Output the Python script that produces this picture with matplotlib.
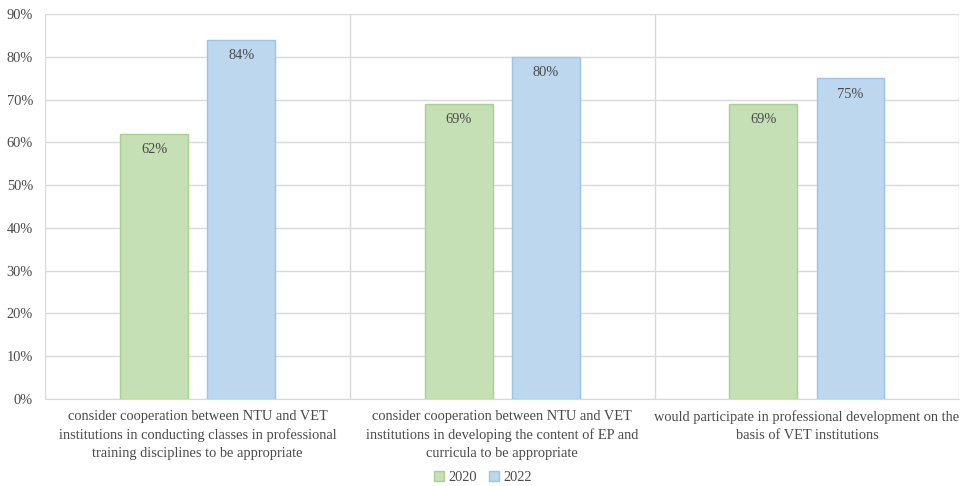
import matplotlib.pyplot as plt
import numpy as np
from matplotlib.ticker import PercentFormatter

categories = [
    "consider cooperation between NTU and VET\ninstitutions in conducting classes in professional\ntraining disciplines to be appropriate",
    "consider cooperation between NTU and VET\ninstitutions in developing the content of EP and\ncurricula to be appropriate",
    "would participate in professional development on the\nbasis of VET institutions",
]
years = ["2020", "2022"]
v2020 = [62, 69, 69]
v2022 = [84, 80, 75]

plt.rcParams['font.family'] = ['Liberation Serif', 'DejaVu Serif']
txt = '#4a4a4a'
fs = 10.4

fig = plt.figure(figsize=(9.66, 4.86), dpi=100)
ax = fig.add_axes([0.047, 0.179, 0.946, 0.792])

x = np.arange(len(categories))
w = 0.223
off = 0.143
b1 = ax.bar(x - off, v2020, w, color='#c5e0b4', edgecolor='#a9d18e', linewidth=1, label=years[0], zorder=3)
b2 = ax.bar(x + off, v2022, w, color='#bdd7ee', edgecolor='#9dc3e6', linewidth=1, label=years[1], zorder=3)

for bars in (b1, b2):
    for r in bars:
        h = r.get_height()
        ax.text(r.get_x() + r.get_width() / 2, h - 2.2, f"{h:.0f}%", ha='center', va='top',
                fontsize=fs, color=txt, zorder=4)

ax.set_xlim(-0.5, len(categories) - 0.5)
ax.set_ylim(0, 90)
ax.set_yticks(range(0, 91, 10))
ax.yaxis.set_major_formatter(PercentFormatter(decimals=0))
ax.set_xticks(x)
ax.set_xticklabels(categories, fontsize=fs, color=txt, linespacing=1.5)
ax.tick_params(axis='y', labelsize=fs, labelcolor=txt, length=0, pad=9)
ax.tick_params(axis='x', length=0, pad=8)

ax.grid(axis='y', color='#d9d9d9', linewidth=1, zorder=0)
for b in np.arange(-0.5, len(categories), 1.0):
    ax.axvline(b, color='#d9d9d9', linewidth=1, zorder=0)
for s in ['top', 'right', 'left']:
    ax.spines[s].set_visible(False)
ax.spines['bottom'].set_color('#d9d9d9')

fig.legend(loc='lower center', bbox_to_anchor=(0.5, -0.022), ncol=2, frameon=False,
           fontsize=fs, handlelength=0.7, handleheight=0.7, handletextpad=0.3,
           columnspacing=0.8, labelcolor=txt)

fig.savefig('out.png', dpi=100)
